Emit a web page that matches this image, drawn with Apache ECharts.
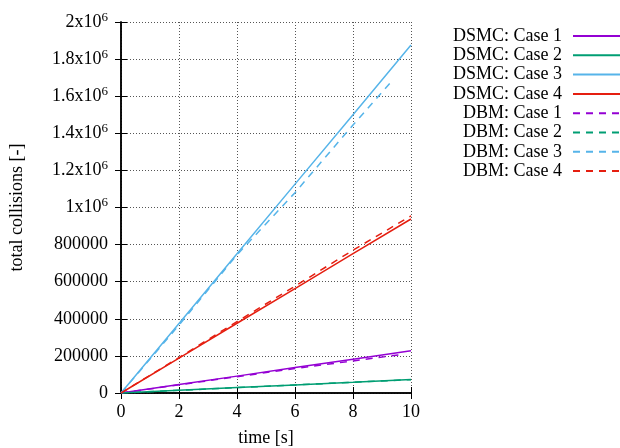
<!DOCTYPE html>
<html>
<head>
    <meta charset="utf-8">
    <title>total collisions</title>
    <script src="https://cdn.jsdelivr.net/npm/echarts@6/dist/echarts.min.js"></script>
    <style>
        html, body { margin: 0; padding: 0; background: #fff; }
        #chart { width: 620px; height: 448px; }
    </style>
</head>
<body>
<div id="chart"></div>
<script>
    // times [s] and total collisions
    const dsmcTime = [0, 2, 4, 6, 8, 10];
    const dsmcCase1 = [0, 45500, 91000, 137000, 182000, 228000];
    const dsmcCase2 = [0, 14500, 29000, 43500, 58000, 73000];
    const dsmcCase3 = [0, 375000, 751000, 1126000, 1500000, 1876000];
    const dsmcCase4 = [0, 188000, 376000, 563000, 751000, 938000];

    const dbmTime1 = [0, 2, 4, 6, 8, 9.7];
    const dbmCase1 = [0, 44000, 88000, 132000, 173000, 208000];
    const dbmTime2 = [0, 2, 4, 6, 8, 10];
    const dbmCase2 = [0, 14500, 29000, 43500, 58000, 72000];
    const dbmTime3 = [0, 2, 4, 6, 8, 9.3];
    const dbmCase3 = [0, 366000, 745000, 1080000, 1445000, 1675000];
    const dbmTime4 = [0, 2, 4, 6, 8, 10];
    const dbmCase4 = [0, 191000, 385000, 576000, 770000, 955000];

    const xTicks = [0, 2, 4, 6, 8, 10];
    const yTicks = [0, 200000, 400000, 600000, 800000, 1000000, 1200000, 1400000, 1600000, 1800000, 2000000];
    const yTickLabels = ['0', '200000', '400000', '600000', '800000', '1x10', '1.2x10', '1.4x10', '1.6x10', '1.8x10', '2x10'];

    const colors = ['#9400d3', '#009e73', '#56b4e9', '#e51e10'];
    const font = 'Liberation Serif';

    function pairs(xs, ys) {
        return xs.map((x, i) => [x, ys[i]]);
    }

    function line(name, xs, ys, color, dashed) {
        return {
            name: name,
            type: 'line',
            data: pairs(xs, ys),
            symbol: 'none',
            xAxisIndex: 0,
            yAxisIndex: 0,
            lineStyle: { color: color, width: 1.5, type: dashed ? [7, 6] : 'solid' },
            itemStyle: { color: color },
            animation: false
        };
    }

    let myChart = echarts.init(document.getElementById('chart'));

    const axisLine = { show: true, lineStyle: { color: '#000', width: 1.5 } };
    const axisTick = { inside: true, length: 6, lineStyle: { color: '#000' } };
    const gridLine = { show: true, lineStyle: { color: '#555', width: 1, type: [1, 2] } };

    myChart.setOption({
        animation: false,
        textStyle: { fontFamily: font },
        grid: { left: 121, right: 209, top: 22, bottom: 55, outerBoundsMode: 'none', containLabel: false },
        legend: {
            orient: 'vertical',
            right: -2,
            top: 27,
            align: 'right',
            padding: 0,
            itemGap: 1.3,
            itemWidth: 48,
            itemHeight: 17,
            itemStyle: { opacity: 0 },
            textStyle: { fontFamily: font, fontSize: 18, color: '#000', padding: [0, 6, 0, 0] },
            data: ['DSMC: Case 1', 'DSMC: Case 2', 'DSMC: Case 3', 'DSMC: Case 4',
                   'DBM: Case 1', 'DBM: Case 2', 'DBM: Case 3', 'DBM: Case 4']
        },
        xAxis: [{
            type: 'value',
            min: 0, max: 10, interval: 2,
            name: 'time [s]',
            nameLocation: 'middle',
            nameGap: 36,
            nameTextStyle: { fontFamily: font, fontSize: 18, color: '#000' },
            axisLine: axisLine,
            axisTick: axisTick,
            axisLabel: { fontFamily: font, fontSize: 18, color: '#000', margin: 10 },
            splitLine: gridLine
        }, {
            type: 'value',
            position: 'top',
            min: 0, max: 10, interval: 2,
            axisLine: axisLine,
            axisTick: axisTick,
            axisLabel: { show: false },
            splitLine: { show: false }
        }],
        yAxis: [{
            type: 'value',
            min: 0, max: 2000000, interval: 200000,
            name: 'total collisions [-]',
            nameLocation: 'middle',
            nameGap: 95,
            nameTextStyle: { fontFamily: font, fontSize: 18, color: '#000' },
            axisLine: axisLine,
            axisTick: axisTick,
            axisLabel: {
                margin: 13,
                formatter: function (v) {
                    const i = yTicks.indexOf(v);
                    const txt = i >= 0 ? yTickLabels[i] : String(v);
                    return v >= 1000000 ? '{n|' + txt + '}{s|6}' : '{n|' + txt + '}';
                },
                rich: {
                    n: { fontFamily: font, fontSize: 18, color: '#000', lineHeight: 22 },
                    s: { fontFamily: font, fontSize: 13, color: '#000', verticalAlign: 'top', lineHeight: 22 }
                }
            },
            splitLine: gridLine
        }, {
            type: 'value',
            position: 'right',
            min: 0, max: 2000000, interval: 200000,
            axisLine: axisLine,
            axisTick: axisTick,
            axisLabel: { show: false },
            splitLine: { show: false }
        }],
        series: [
            line('DSMC: Case 1', dsmcTime, dsmcCase1, colors[0], false),
            line('DSMC: Case 2', dsmcTime, dsmcCase2, colors[1], false),
            line('DSMC: Case 3', dsmcTime, dsmcCase3, colors[2], false),
            line('DSMC: Case 4', dsmcTime, dsmcCase4, colors[3], false),
            line('DBM: Case 1', dbmTime1, dbmCase1, colors[0], true),
            line('DBM: Case 2', dbmTime2, dbmCase2, colors[1], true),
            line('DBM: Case 3', dbmTime3, dbmCase3, colors[2], true),
            line('DBM: Case 4', dbmTime4, dbmCase4, colors[3], true)
        ]
    });
</script>
</body>
</html>
